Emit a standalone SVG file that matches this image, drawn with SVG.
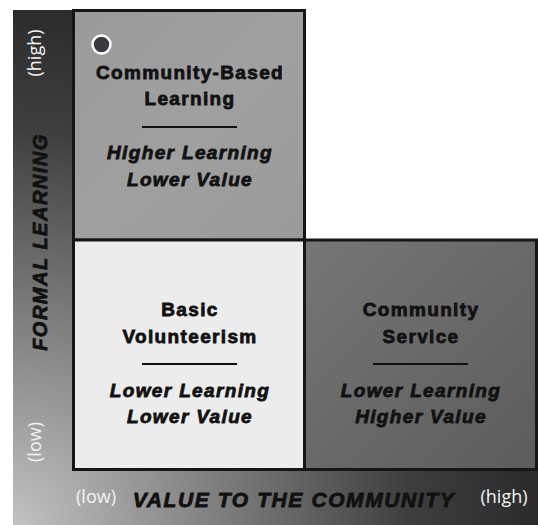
<svg xmlns="http://www.w3.org/2000/svg" width="538" height="525" viewBox="0 0 538 525">
  <defs>
    <radialGradient id="axisGrad" gradientUnits="userSpaceOnUse" cx="13" cy="525" r="530">
      <stop offset="0" stop-color="#c2c2c2"/>
      <stop offset="0.3" stop-color="#8e8e8e"/>
      <stop offset="0.55" stop-color="#626262"/>
      <stop offset="0.75" stop-color="#3e3e3e"/>
      <stop offset="1" stop-color="#2a2a2a"/>
    </radialGradient>
    <linearGradient id="brGrad" x1="0" y1="0" x2="1" y2="1">
      <stop offset="0" stop-color="#767676"/>
      <stop offset="1" stop-color="#5c5c5c"/>
    </linearGradient>
    <linearGradient id="tlGrad" x1="0" y1="0" x2="1" y2="1">
      <stop offset="0" stop-color="#9a9a9a"/>
      <stop offset="0.5" stop-color="#a0a0a0"/>
      <stop offset="1" stop-color="#9a9a9a"/>
    </linearGradient>
  </defs>
  <style>
    .quad { stroke: #161616; stroke-width: 3; }
    .title { font-family: "Liberation Sans", Arial, sans-serif; font-weight: bold; font-size: 19px; letter-spacing: 1.35px; fill: #111; stroke: #111; stroke-width: 0.8px; text-anchor: middle; }
    .sub { font-family: "Liberation Sans", Arial, sans-serif; font-weight: bold; font-style: italic; font-size: 19px; letter-spacing: 1.35px; fill: #111; stroke: #111; stroke-width: 0.8px; text-anchor: middle; }
    .rule { stroke: #111; stroke-width: 2; }
    .axis { font-family: "Liberation Sans", Arial, sans-serif; font-weight: bold; font-style: italic; fill: #111; stroke: #111; stroke-width: 0.8px; text-anchor: middle; }
    .tick { font-family: "Open Sans", "DejaVu Sans", sans-serif; font-size: 18px; fill: #f4f4f4; text-anchor: middle; }
  </style>
  <rect width="538" height="525" fill="#ffffff"/>

  <g id="axes">
    <path d="M13 10 H73 V470 H538 V525 H13 Z" fill="url(#axisGrad)"/>
    <text class="axis" font-size="20" letter-spacing="1.5" transform="translate(47,242) rotate(-90)">FORMAL LEARNING</text>
    <text class="tick" transform="translate(41,53) rotate(-90)">(high)</text>
    <text class="tick" transform="translate(41,442) rotate(-90)">(low)</text>
    <text class="axis" font-size="21" letter-spacing="1.6" x="294" y="507">VALUE TO THE COMMUNITY</text>
    <text class="tick" x="96" y="503">(low)</text>
    <text class="tick" x="504" y="503">(high)</text>
  </g>

  <g id="community-based-learning">
    <rect class="quad" x="73.5" y="10.5" width="231" height="229.5" fill="url(#tlGrad)"/>
    <circle cx="101.5" cy="44.5" r="9" fill="#3a3a42" stroke="#ffffff" stroke-width="2.5"/>
    <text class="title" x="190" y="79">Community-Based</text>
    <text class="title" x="190" y="105">Learning</text>
    <line class="rule" x1="142" y1="127" x2="237" y2="127"/>
    <text class="sub" x="190" y="159">Higher Learning</text>
    <text class="sub" x="190" y="186">Lower Value</text>
  </g>

  <g id="basic-volunteerism">
    <rect class="quad" x="73.5" y="240" width="231" height="229.5" fill="#ececec"/>
    <text class="title" x="190" y="316">Basic</text>
    <text class="title" x="190" y="343">Volunteerism</text>
    <line class="rule" x1="142" y1="364" x2="237" y2="364"/>
    <text class="sub" x="190" y="397">Lower Learning</text>
    <text class="sub" x="190" y="423">Lower Value</text>
  </g>

  <g id="community-service">
    <rect class="quad" x="304.5" y="240" width="232" height="229.5" fill="url(#brGrad)"/>
    <text class="title" x="421" y="316">Community</text>
    <text class="title" x="421" y="343">Service</text>
    <line class="rule" x1="373" y1="364" x2="468" y2="364"/>
    <text class="sub" x="421" y="397">Lower Learning</text>
    <text class="sub" x="421" y="423">Higher Value</text>
  </g>
</svg>
